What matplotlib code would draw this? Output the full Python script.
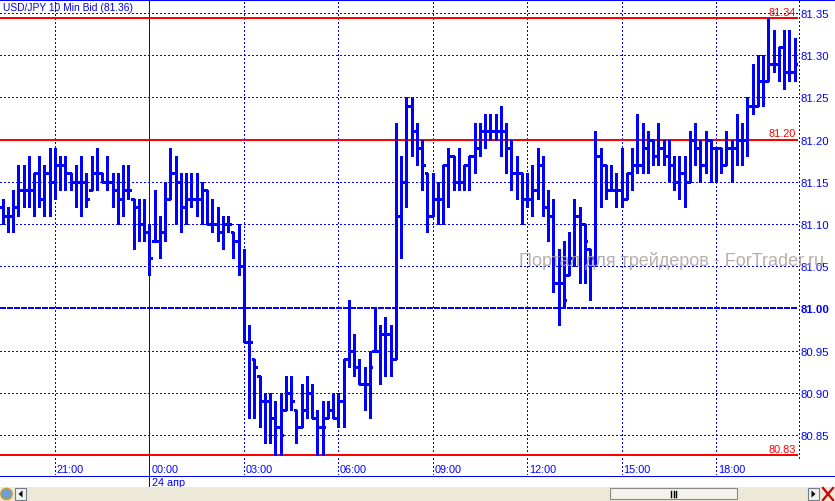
import numpy as np
import pandas as pd
import matplotlib
matplotlib.use("Agg")
import matplotlib.pyplot as plt
from matplotlib.patches import Rectangle, Circle, Polygon

plt.rcParams["font.family"] = ["Liberation Sans", "DejaVu Sans"]

# 10 minute bars, 23.04 19:20 .. 24.04 20:40
times = pd.date_range("2011-04-23 19:20", periods=152, freq="10min")

opens = [
    81.12, 81.11, 81.11, 81.12, 81.14, 81.14, 81.14, 81.16, 81.13, 81.16,
    81.15, 81.17, 81.17, 81.16, 81.15, 81.15, 81.15, 81.14, 81.16, 81.16,
    81.15, 81.15, 81.14, 81.13, 81.14, 81.13, 81.12, 81.10, 81.09, 81.08,
    81.08, 81.09, 81.13, 81.16, 81.15, 81.12, 81.13, 81.13, 81.13, 81.14,
    81.10, 81.10, 81.09, 81.10, 81.09, 81.08, 81.05, 80.96, 80.94, 80.92,
    80.89, 80.89, 80.87, 80.86, 80.88, 80.90, 80.88, 80.86, 80.88, 80.90,
    80.87, 80.86, 80.87, 80.88, 80.87, 80.89, 80.94, 80.95, 80.93, 80.91,
    80.91, 80.95, 80.95, 80.97, 80.97, 80.94, 81.11, 81.15, 81.24, 81.21,
    81.19, 81.16, 81.11, 81.13, 81.13, 81.17, 81.18, 81.15, 81.15, 81.17,
    81.18, 81.19, 81.21, 81.21, 81.21, 81.21, 81.21, 81.19, 81.16, 81.16,
    81.13, 81.13, 81.14, 81.17, 81.12, 81.11, 81.03, 81.03, 81.04, 81.06,
    81.11, 81.10, 81.07, 81.06, 81.18, 81.17, 81.14, 81.14, 81.14, 81.13,
    81.16, 81.17, 81.17, 81.19, 81.20, 81.18, 81.19, 81.18, 81.17, 81.15,
    81.16, 81.15, 81.20, 81.19, 81.17, 81.20, 81.19, 81.19, 81.17, 81.19,
    81.19, 81.20, 81.20, 81.24, 81.24, 81.27, 81.27, 81.29, 81.29, 81.31,
    81.28, 81.28,
]
highs = [
    81.13, 81.12, 81.14, 81.17, 81.17, 81.18, 81.16, 81.18, 81.17, 81.19,
    81.19, 81.18, 81.18, 81.16, 81.17, 81.18, 81.16, 81.18, 81.19, 81.16,
    81.18, 81.16, 81.16, 81.17, 81.17, 81.13, 81.13, 81.13, 81.10, 81.14,
    81.11, 81.15, 81.19, 81.18, 81.16, 81.16, 81.16, 81.16, 81.15, 81.14,
    81.13, 81.12, 81.11, 81.11, 81.09, 81.10, 81.07, 80.98, 80.94, 80.92,
    80.90, 80.90, 80.89, 80.90, 80.92, 80.92, 80.88, 80.91, 80.92, 80.91,
    80.88, 80.89, 80.89, 80.90, 80.90, 80.94, 81.01, 80.97, 80.94, 80.93,
    80.95, 81.00, 80.98, 80.99, 80.98, 81.22, 81.18, 81.25, 81.25, 81.22,
    81.20, 81.16, 81.16, 81.15, 81.17, 81.19, 81.18, 81.19, 81.17, 81.18,
    81.22, 81.22, 81.23, 81.23, 81.23, 81.24, 81.22, 81.20, 81.18, 81.16,
    81.16, 81.17, 81.19, 81.18, 81.14, 81.13, 81.07, 81.08, 81.09, 81.13,
    81.12, 81.10, 81.07, 81.21, 81.19, 81.17, 81.17, 81.16, 81.19, 81.16,
    81.19, 81.23, 81.22, 81.21, 81.20, 81.22, 81.20, 81.20, 81.18, 81.18,
    81.18, 81.21, 81.22, 81.20, 81.21, 81.20, 81.19, 81.19, 81.21, 81.20,
    81.23, 81.22, 81.25, 81.29, 81.30, 81.30, 81.344, 81.33, 81.31, 81.33,
    81.33, 81.32,
]
lows = [
    81.10, 81.09, 81.09, 81.11, 81.12, 81.12, 81.11, 81.12, 81.11, 81.11,
    81.13, 81.14, 81.14, 81.14, 81.12, 81.11, 81.12, 81.14, 81.14, 81.15,
    81.14, 81.12, 81.10, 81.11, 81.13, 81.07, 81.08, 81.08, 81.04, 81.08,
    81.06, 81.08, 81.13, 81.10, 81.09, 81.10, 81.12, 81.11, 81.10, 81.10,
    81.09, 81.08, 81.07, 81.09, 81.06, 81.04, 80.96, 80.87, 80.87, 80.86,
    80.84, 80.84, 80.826, 80.826, 80.88, 80.88, 80.84, 80.86, 80.87, 80.87,
    80.826, 80.826, 80.87, 80.87, 80.86, 80.86, 80.93, 80.92, 80.91, 80.88,
    80.87, 80.95, 80.91, 80.92, 80.92, 80.94, 81.06, 81.12, 81.18, 81.17,
    81.14, 81.09, 81.11, 81.10, 81.10, 81.12, 81.14, 81.14, 81.14, 81.14,
    81.16, 81.18, 81.19, 81.20, 81.20, 81.18, 81.16, 81.14, 81.13, 81.10,
    81.12, 81.11, 81.13, 81.11, 81.08, 81.02, 80.98, 81.00, 81.04, 81.05,
    81.03, 81.03, 81.01, 81.05, 81.12, 81.13, 81.14, 81.12, 81.12, 81.13,
    81.14, 81.16, 81.16, 81.16, 81.17, 81.17, 81.17, 81.15, 81.14, 81.13,
    81.12, 81.15, 81.17, 81.15, 81.16, 81.15, 81.15, 81.16, 81.17, 81.15,
    81.17, 81.17, 81.18, 81.23, 81.24, 81.24, 81.27, 81.28, 81.27, 81.26,
    81.27, 81.27,
]
closes = [
    81.11, 81.11, 81.12, 81.14, 81.14, 81.14, 81.16, 81.13, 81.16, 81.15,
    81.17, 81.17, 81.16, 81.15, 81.15, 81.15, 81.13, 81.16, 81.16, 81.15,
    81.15, 81.14, 81.13, 81.14, 81.14, 81.12, 81.10, 81.09, 81.06, 81.08,
    81.09, 81.13, 81.16, 81.15, 81.12, 81.13, 81.13, 81.13, 81.14, 81.10,
    81.10, 81.09, 81.10, 81.10, 81.08, 81.05, 80.96, 80.96, 80.93, 80.89,
    80.89, 80.87, 80.86, 80.85, 80.90, 80.89, 80.86, 80.88, 80.90, 80.87,
    80.86, 80.86, 80.88, 80.87, 80.89, 80.94, 80.95, 80.93, 80.91, 80.91,
    80.93, 80.95, 80.97, 80.97, 80.94, 81.11, 81.15, 81.24, 81.21, 81.19,
    81.17, 81.11, 81.13, 81.13, 81.17, 81.18, 81.15, 81.15, 81.17, 81.18,
    81.19, 81.21, 81.21, 81.21, 81.21, 81.21, 81.19, 81.16, 81.16, 81.13,
    81.13, 81.14, 81.17, 81.12, 81.11, 81.03, 81.03, 81.01, 81.06, 81.11,
    81.10, 81.08, 81.06, 81.18, 81.17, 81.14, 81.14, 81.14, 81.13, 81.16,
    81.17, 81.17, 81.19, 81.20, 81.18, 81.19, 81.18, 81.17, 81.15, 81.16,
    81.15, 81.20, 81.19, 81.17, 81.20, 81.19, 81.19, 81.17, 81.19, 81.19,
    81.20, 81.20, 81.24, 81.24, 81.27, 81.27, 81.29, 81.29, 81.31, 81.28,
    81.28, 81.29,
]

price_ticks = [80.85, 80.90, 80.95, 81.00, 81.05, 81.10, 81.15, 81.20, 81.25, 81.30, 81.35]
level_values = [81.344, 81.20, 80.826]
level_labels = ["81.34", "81.20", "80.83"]
title = "USD/JPY 10 Min Bid (81.36)"
date_label = "24 апр"
watermark = "Портал для трейдеров - ForTrader.ru"

BLUE = "#0000ff"
W, H = 835, 502
fig = plt.figure(figsize=(W / 100, H / 100), dpi=100)

# price area: x 0..798 px, y 1..476 px
ax = fig.add_axes([0, (H - 476) / H, 798 / W, 475 / H])
ax.set_xlim(-0.48, 151.63)
ax.set_ylim(80.8026, 81.3654)
for s in ax.spines.values():
    s.set_visible(False)

x = np.arange(len(times))
dotted = (0, (1, 2))

# grid
for p in price_ticks:
    if abs(p - 81.00) < 1e-9:
        ax.axhline(p, color=BLUE, lw=1.3, ls=(0, (3, 1)), zorder=1, antialiased=False)
    else:
        ax.axhline(p, color=BLUE, lw=0.7, ls=(0, (1.4, 2.8)), zorder=1, antialiased=False)

hour_idx = [i for i, t in enumerate(times) if t.minute == 0 and t.hour % 3 == 0]
lab_y = (476 - 470) / 475
for i in hour_idx:
    t = times[i]
    if t.hour == 0:
        ax.axvline(i, ymin=-12 / 475, ymax=1, color=BLUE, lw=0.6, zorder=1,
                   clip_on=False, antialiased=False)
        ax.text(i + 0.4, -(483 - 476) / 475, date_label, transform=ax.get_xaxis_transform(),
                color=BLUE, fontsize=7.8, va="center", ha="left")
    else:
        ax.axvline(i, color=BLUE, lw=0.7, ls=(0, (1.4, 2.8)), zorder=1, antialiased=False)
    ax.text(i + 0.35, lab_y, t.strftime("%H:%M"), transform=ax.get_xaxis_transform(),
            color=BLUE, fontsize=7.8, va="center", ha="left")

# high / low / level lines
for v, lab in zip(level_values, level_labels):
    ax.axhline(v, color="#ff0000", lw=1.3, zorder=2, antialiased=False)
    ax.text(0.997, v + 0.0015, lab, transform=ax.get_yaxis_transform(),
            color="#ff0000", fontsize=7.8, ha="right", va="bottom", zorder=2)

# OHLC bars
ax.vlines(x, lows, highs, color=BLUE, lw=1.9, zorder=3, antialiased=False)
ax.hlines(opens, x - 0.5, x, color=BLUE, lw=1.9, zorder=3, antialiased=False)
ax.hlines(closes, x, x + 0.5, color=BLUE, lw=1.9, zorder=3, antialiased=False)

# right price scale
ax.yaxis.tick_right()
ax.set_yticks(price_ticks)
ax.set_yticklabels([f"{p:.2f}" for p in price_ticks])
ax.tick_params(axis="y", length=0, pad=1.6, labelcolor=BLUE, labelsize=8.2)
for tl in ax.get_yticklabels():
    if tl.get_text() == "81.00":
        tl.set_fontweight("bold")
ax.set_xticks([])

# frame, scrollbar and watermark in pixel coords
ov = fig.add_axes([0, 0, 1, 1], zorder=5)
ov.set_xlim(0, W)
ov.set_ylim(H, 0)
ov.axis("off")
ov.patch.set_alpha(0)

ov.plot([0, W], [1, 1], color=BLUE, lw=1.4, antialiased=False)
ov.plot([0, W], [476.5, 476.5], color=BLUE, lw=0.7, antialiased=False)
ov.plot([798.5, 798.5], [2, 462], color=BLUE, lw=0.7, ls=(0, (1.4, 2.8)), antialiased=False)
ov.text(3, 8, title, color=BLUE, fontsize=7.4, va="center", ha="left")
ov.text(519, 261, watermark, color="#aaa19d", alpha=0.85, fontsize=13.0,
        va="center", ha="left")

# scrollbar
ov.add_patch(Rectangle((0, 488), W, 14, fc="#ece9d8", ec="none"))
ov.add_patch(Rectangle((610, 489), 127, 11, fc="#f3f2ec", ec="#8a8a8a", lw=0.8))
for gx in (671, 673.5, 676):
    ov.plot([gx, gx], [492, 497.5], color="black", lw=1.0)
ov.add_patch(Rectangle((15, 489), 11, 11.5, fc="#f3f2ec", ec="#6f7f8f", lw=0.8))
ov.add_patch(Polygon([[22.5, 491.5], [22.5, 498.5], [18.5, 495]], closed=True, fc="black"))
ov.add_patch(Rectangle((808, 489), 11, 11.5, fc="#f3f2ec", ec="#6f7f8f", lw=0.8))
ov.add_patch(Polygon([[811.5, 491.5], [811.5, 498.5], [815.5, 495]], closed=True, fc="black"))
ov.plot([823, 833], [489, 501], color="#cc0000", lw=1.6)
ov.plot([823, 833], [501, 489], color="#cc0000", lw=1.6)
ov.add_patch(Circle((6.5, 495), 5.5, fc="#6a9fd8", ec="#c89a30", lw=1.2))

fig.savefig("out.png", dpi=100)
